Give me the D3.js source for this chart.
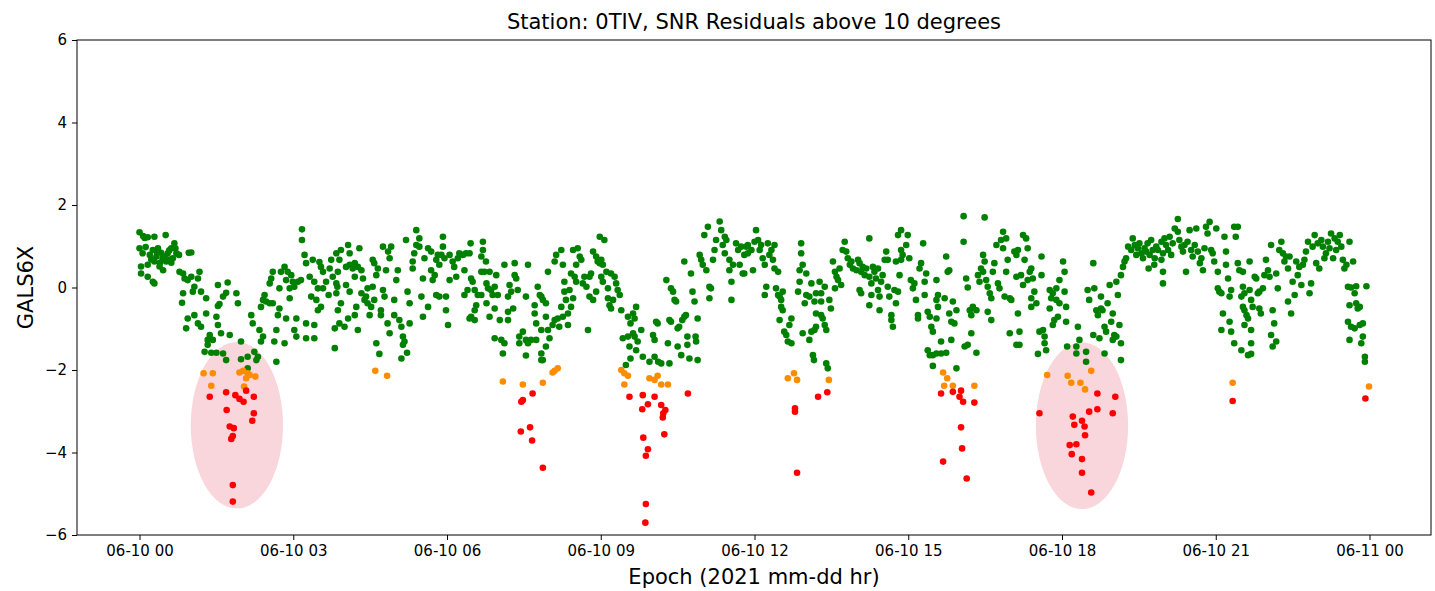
<!DOCTYPE html>
<html>
<head>
<meta charset="utf-8">
<script src="https://cdn.jsdelivr.net/npm/d3@7"></script>
<style>
  html, body { margin: 0; padding: 0; background: #fff; }
  svg { display: block; font-family: "DejaVu Sans", sans-serif; }
</style>
</head>
<body>
<svg id="chart" width="1435" height="591"></svg>
<script>
// SNR residuals for GALS6X at station 0TIV, 2021-06-10 (hours since 00:00, residual)
const goodPoints = [
[0.0,1.34],[0.07,1.25],[0.16,1.22],[0.29,1.23],[0.51,1.27],[0.0,0.95],[0.06,0.83],[0.2,0.79],[0.26,0.91],[0.36,0.95],[0.42,0.84],[0.49,0.75],[0.55,0.83],[0.62,0.95],[0.68,1.07],[0.72,0.83],[0.65,0.71],[0.52,0.63],[0.39,0.51],[0.46,0.42],[0.29,0.63],[0.16,0.55],[0.03,0.51],[0.03,0.34],[0.16,0.26],[0.26,0.14],[0.29,0.1],[0.23,0.68],[0.33,0.75],[0.59,0.68],[0.77,0.79],[0.96,0.84],[1.01,0.85],
[0.1,1.2],[0.12,0.98],[0.33,0.88],[0.45,0.7],[0.58,0.9],[0.7,0.95],[0.4,0.6],[0.62,0.6],
[0.78,0.38],[0.85,0.34],[0.88,0.22],[0.94,0.18],[1.01,0.26],[1.17,0.38],[1.14,0.22],[1.07,0.02],[1.04,-0.1],[0.85,-0.14],[0.83,-0.37],[1.2,-0.1],[1.3,-0.26],[1.53,0.06],[1.72,0.12],[1.69,-0.13],[1.63,-0.22],[1.56,-0.4],[1.53,-0.45],[1.89,-0.14],[1.92,-0.38],[0.94,-0.75],[0.91,-0.99],[1.07,-0.67],[1.14,-0.87],[1.2,-0.95],[1.3,-0.63],[1.5,-0.71],[1.53,-0.91],[1.37,-1.15],[1.33,-1.27],[1.43,-1.27],[1.59,-1.11],[1.76,-1.15],[1.33,-1.39],[1.27,-1.56],[1.4,-1.58],[1.5,-1.58],[1.63,-1.6],[1.69,-1.76],[1.98,-1.31],[1.98,-1.74],[2.11,-1.68],[2.24,-1.56],[2.31,-1.68],[2.28,-1.76],[2.11,-1.96],[2.18,-0.67],[2.21,-0.87],[2.34,-1.03],[2.41,-1.19],[2.37,-1.31],[2.67,-1.03],[2.63,-1.31],[2.83,-1.35],[2.67,-1.8],
[3.17,1.41],[3.17,1.15],[3.22,0.79],[3.25,0.59],[3.38,0.67],[3.51,0.62],[3.54,0.5],[3.58,0.38],[3.71,0.46],[3.74,0.67],[3.84,0.83],[3.77,0.26],[3.84,0.1],[3.84,-0.14],[3.87,-0.55],[3.81,-0.99],[3.81,-1.47],[2.6,0.38],[2.57,0.22],[2.54,0.1],[2.76,0.38],[2.83,0.5],[2.89,0.38],[2.96,0.3],[2.86,0.18],[2.99,0.14],[3.09,0.14],[3.15,0.18],[3.32,0.26],[3.41,0.14],[3.48,-0.02],[3.58,-0.02],[3.64,0.14],[3.69,-0.18],[2.93,-0.02],[3.02,0.02],[2.73,-0.02],[2.93,-0.26],[3.35,-0.22],[3.45,-0.3],[3.54,-0.47],[3.48,-0.55],[2.44,-0.18],[2.41,-0.3],[2.47,-0.34],[2.54,-0.38],[2.37,-0.47],[2.6,-0.38],[2.73,-0.51],[2.7,-0.67],[2.86,-0.75],[3.06,-0.75],[3.02,-1.03],[3.06,-1.19],[3.25,-0.87],[3.41,-0.91],[3.25,-1.23],[3.41,-1.23],
[3.9,0.67],[3.93,0.91],[4.07,1.03],[4.1,0.83],[3.87,0.38],[3.86,0.02],[4.03,0.5],[4.1,0.55],[4.16,0.46],[4.2,0.26],[4.26,0.5],[4.33,0.42],[4.29,0.95],[4.2,0.59],[4.03,0.06],[4.1,-0.1],[3.93,-0.38],[3.9,-0.87],[4.0,-0.95],[4.07,-0.75],[4.2,-0.67],[4.23,-0.47],[4.26,-1.03],[4.33,-0.14],[4.39,-0.3],[4.42,-0.22],[4.45,-0.38],[4.49,-0.67],[4.52,-0.47],[4.55,0.02],[4.58,-0.3],[4.45,-0.02],[4.36,0.22],[4.55,0.67],[4.58,0.59],[4.65,0.46],[4.62,0.3],[4.75,0.99],[4.85,0.87],[4.88,0.71],[4.91,0.99],[4.81,0.42],[4.75,-0.06],[4.78,-0.22],[4.71,-0.55],[4.71,-0.67],[4.84,-0.87],[4.88,-1.11],[4.97,-0.3],[5.01,0.18],[5.04,0.42],[4.97,-0.67],[5.07,-0.79],[5.11,-0.95],[5.14,-1.19],[5.17,-1.31],[5.14,-1.39],[5.11,-1.72],[5.22,-1.58],[4.62,-1.35],[4.68,-1.61],[5.27,-0.87],[5.27,-0.38],[5.23,-0.1],[5.33,0.46],[5.36,0.83],[5.4,1.03],[5.4,1.39],[5.46,1.19],[5.46,0.99],[5.2,1.15],[5.33,0.63],[5.53,0.22],[5.5,-0.22],[5.53,-0.71],[5.63,-0.47],[5.56,0.71],[5.63,0.95],[5.69,0.87],[5.69,0.42],[5.72,0.18],[5.76,0.3],[5.79,0.67],[5.82,0.79],[5.89,0.79],[5.92,1.23],[5.92,0.99],[5.95,0.71],[5.85,0.55],[5.79,-0.18],[5.85,-0.22],[5.98,-0.22],[5.98,-0.55],[6.02,-0.91],[6.05,0.18],[6.05,0.79],[6.11,0.63],[6.14,0.5],[6.21,0.71],[6.24,0.83],[6.31,0.79],[6.34,0.42],[6.37,0.83],[6.44,0.83],[6.46,1.07],[6.18,0.26],[6.34,-0.18],[6.4,-0.06],[6.47,0.22],[6.5,0.14],[6.54,-0.06],[6.6,-0.18],[6.57,-0.43],[6.54,-0.55],[6.47,-0.71],[6.44,-0.75],[6.54,-0.79],[6.7,1.11],[6.7,0.91],[6.67,0.75],[6.76,0.63],[6.67,0.38],[6.73,0.38],[6.83,0.38],[6.67,-0.18],[6.77,0.1],[6.8,-0.02],[6.86,-0.06],[6.89,-0.18],[6.93,0.02],[6.99,-0.18],[6.77,-0.38],[6.83,-0.71],[6.93,-0.51],[7.03,-0.79],[6.96,0.3],[7.12,0.55],[7.19,-0.22],[7.22,0.06],[7.25,-0.1],[7.32,0.59],[7.32,0.3],[7.35,0.22],[7.38,-0.06],[7.19,-0.59],[7.29,-0.51],[7.19,-0.79],[7.58,0.55],[7.54,-0.22],[6.93,-1.23],[7.06,-1.27],[7.12,-1.35],[7.09,-1.6],[7.41,-1.19],[7.41,-1.35],[7.48,-1.07],[7.54,-1.27],[7.58,-1.35],[7.64,-1.27],[7.74,-1.27],[7.54,-1.65],[7.71,-0.43],[7.71,-0.63],[7.74,-0.87],[7.77,0.02],[7.81,-0.18],[7.84,-1.03],[7.84,-1.6],[7.84,-1.76],
[7.84,-0.22],[7.87,-0.3],[7.93,-0.38],[7.97,0.38],[8.1,0.63],[8.13,0.79],[8.23,0.91],[8.26,0.55],[7.93,-0.71],[7.97,-1.03],[8.0,-1.23],[7.93,-1.43],[7.87,-1.76],[8.06,-0.91],[8.1,-0.79],[8.16,-0.75],[8.19,-0.95],[8.23,-0.47],[8.26,-0.71],[8.29,0.14],[8.29,-0.1],[8.32,-0.3],[8.36,-0.63],[8.36,-0.91],[8.39,-0.06],[8.42,-0.47],[8.46,-0.26],[8.42,0.34],[8.46,0.91],[8.49,0.26],[8.52,0.14],[8.52,0.55],[8.55,0.95],[8.59,0.75],[8.62,0.67],[8.65,0.1],[8.68,0.26],[8.72,0.02],[8.75,-1.03],[8.78,0.26],[8.81,0.34],[8.78,-0.22],[8.85,-0.3],[8.85,0.87],[8.91,0.75],[8.94,0.63],[8.98,1.23],[9.07,1.15],[8.98,0.59],[9.01,0.67],[9.04,0.55],[8.91,-0.1],[9.01,0.26],[9.04,0.14],[9.11,0.38],[9.14,-0.02],[9.14,-0.26],[9.17,-0.43],[9.2,-0.51],[9.2,0.34],[9.27,0.26],[9.3,0.1],[9.33,-0.06],[9.37,-0.18],[9.24,-0.3],[9.4,-0.55],[9.53,-0.71],[9.58,-0.87],[9.63,-0.63],[9.69,-0.47],[9.66,-0.75],[9.79,-1.03],[9.66,-1.19],[9.63,-1.11],[9.53,-1.19],[9.43,-1.23],[9.56,-1.43],[9.69,-1.52],[9.72,-1.31],[9.58,-1.72],[9.49,-1.88],[9.82,-1.68],[9.95,-1.8],[10.05,-1.68],[10.12,-1.8],[10.18,-1.84],[10.34,-1.84],[10.02,-1.15],[10.05,-1.27],[10.08,-0.83],[10.11,-0.87],[10.31,-1.35],[10.34,-0.79],[10.37,-0.83],[10.28,0.18],[10.37,-0.02],[10.41,-0.1],[10.44,-0.3],[10.47,-0.34],[10.5,-0.99],[10.5,-1.43],[10.53,-0.95],[10.59,-0.79],[10.63,-0.71],[10.66,-0.67],[10.57,-1.64],[10.69,-1.19],[10.69,-1.39],[10.73,-1.72],[10.76,0.34],[10.79,-0.1],[10.83,-0.34],[10.85,-1.19],[10.86,-1.31],[10.89,-1.76],[10.89,-0.75],[10.63,0.63],[10.93,0.79],[10.96,0.67],[10.99,0.55],[11.02,1.27],[11.06,0.42],[11.09,1.47],[11.12,0.02],[11.12,-0.26],[11.15,-0.02],[11.19,0.67],[11.22,0.91],[11.25,1.15],[11.32,1.6],[11.35,1.39],[11.38,1.03],[11.42,0.83],[11.42,1.23],[11.45,1.15],[11.51,0.67],[11.51,0.42],[11.55,0.14],[11.55,-0.3],[11.58,0.55],[11.64,1.07],[11.68,0.91],[11.71,0.55],[11.74,0.99],[11.77,0.34],[11.8,0.79],[11.84,0.99],[11.87,0.83],
[11.87,1.03],[11.94,0.91],[12.0,1.11],[12.03,1.39],[12.07,1.15],[12.1,0.91],[12.13,1.03],[12.16,0.71],[12.2,0.55],[12.26,1.07],[12.29,0.79],[12.33,0.91],[12.36,0.67],[12.39,1.03],[12.39,0.46],[12.46,0.38],[11.97,0.42],[11.8,0.34],[12.23,0.02],[12.2,-0.18],[12.42,-0.02],[12.46,-0.18],[12.49,-0.22],[12.52,-0.3],[12.55,-0.1],[12.52,-0.47],[12.55,-0.55],[12.49,-0.79],[12.72,-0.75],[12.68,-0.91],[12.58,-1.07],[12.62,-1.15],[12.65,-1.31],[12.72,-1.35],[12.91,1.07],[12.91,0.83],[12.94,0.55],[12.88,0.42],[13.01,0.34],[12.88,0.14],[12.85,-0.1],[13.01,-0.18],[12.98,-0.38],[13.07,-0.22],[13.11,0.1],[13.2,-0.14],[13.27,0.14],[13.3,-0.14],[13.37,0.02],[13.17,-0.34],[13.3,-0.34],[13.2,-0.63],[13.3,-0.67],[13.33,-0.75],[13.46,-0.3],[13.49,-0.51],[12.94,-1.11],[13.07,-1.27],[13.11,-1.07],[13.17,-1.03],[13.2,-0.95],[13.37,-0.91],[13.4,-1.03],[13.14,-1.64],[13.16,-1.76],[13.4,-1.84],[13.43,-1.96],[13.53,0.63],[13.57,0.38],[13.6,0.26],[13.63,0.18],[13.66,0.46],[13.57,-0.02],[13.69,0.06],[13.76,1.11],[13.79,0.87],[13.72,0.91],[13.82,0.71],[13.86,0.55],[13.89,0.63],[13.92,0.46],[13.99,0.42],[14.02,0.67],[14.05,0.59],[14.08,0.38],[14.11,0.5],[14.15,0.3],[14.05,-0.06],[14.08,-0.14],[14.18,0.46],[14.24,1.19],[14.24,0.26],[14.28,0.1],[14.28,-0.18],[14.31,0.5],[14.34,0.38],[14.37,0.22],[14.41,0.46],[14.41,-0.06],[14.44,-0.22],[14.47,0.14],[14.5,0.3],[14.24,-0.43],[14.44,-0.55],[14.54,0.67],[14.57,0.87],[14.6,0.02],[14.6,0.67],[14.63,-0.22],[14.67,-0.67],[14.67,-0.79],[14.7,-0.95],[14.73,-0.06],[14.76,0.63],[14.76,-0.38],[14.8,1.27],[14.8,-0.1],[14.83,0.3],[14.86,1.39],[14.86,0.91],[14.86,0.67],[14.89,0.79],[14.96,1.03],[14.99,1.27],[15.02,0.71],[15.05,0.18],[15.09,-0.02],[15.12,0.1],[15.15,-0.3],[15.19,-0.67],[15.19,-0.75],[15.22,0.46],[15.25,0.59],[15.29,1.07],[15.32,0.14],[15.32,-0.18],[15.35,0.34],[15.38,-0.59],[15.42,-0.71],[15.45,-0.95],[15.48,-1.07],[15.55,0.18],[15.55,-0.3],[15.58,-0.18],[15.58,-0.47],[15.55,-0.75],[15.71,-0.26],[15.74,0.75],[15.77,0.38],[15.8,-0.63],[15.84,-1.27],[15.64,-1.31],[15.38,-1.52],[15.42,-1.64],[15.48,-1.64],[15.55,-1.6],[15.64,-1.6],[15.74,-1.58],[15.48,-1.9],[15.87,-0.34],[15.84,-0.83],
[16.08,1.73],[16.08,1.11],[16.49,1.7],[15.8,0.42],[15.94,-0.55],[15.9,-0.87],[15.94,-1.96],[16.13,0.22],[16.16,0.0],[16.2,-0.55],[16.23,-0.67],[16.26,-0.47],[16.23,-1.11],[16.16,-1.39],[16.1,-1.43],[16.33,-0.55],[16.33,-1.58],[16.36,0.3],[16.39,0.14],[16.42,0.46],[16.46,0.38],[16.49,0.63],[16.46,0.79],[16.52,0.18],[16.55,0.02],[16.59,-0.14],[16.62,-0.26],[16.55,-0.59],[16.62,-0.79],[16.65,0.38],[16.68,0.59],[16.72,1.03],[16.75,0.1],[16.78,-0.02],[16.81,1.15],[16.85,1.35],[16.85,0.95],[16.91,1.19],[16.91,0.38],[16.88,-0.22],[16.94,0.67],[16.98,-0.26],[17.01,-0.3],[16.98,-1.11],[17.07,0.87],[17.11,0.79],[17.14,0.91],[17.11,0.26],[17.14,-0.63],[17.17,-1.07],[17.11,-1.39],[17.17,-1.39],[17.2,0.3],[17.24,1.27],[17.24,0.06],[17.27,0.67],[17.3,1.19],[17.33,0.95],[17.33,0.18],[17.37,0.38],[17.4,0.46],[17.43,0.22],[17.4,-0.26],[17.4,-0.47],[17.46,-0.1],[17.5,-0.38],[17.56,-1.07],[17.6,0.75],[17.6,0.3],[17.63,-1.03],[17.66,-1.19],[17.66,-1.35],[17.69,-1.52],[17.53,-1.61],[17.76,-0.06],[17.76,-0.51],[17.79,-0.26],[17.82,-0.14],[17.82,-0.91],[17.85,-0.79],[17.89,-0.02],[17.89,-0.3],[17.92,-0.71],[17.95,0.18],[17.95,-0.38],[18.02,0.63],[18.05,0.38],[18.05,-0.1],[18.08,-0.47],[18.08,-0.83],[18.1,-1.43],[18.28,-1.43],[18.31,-0.95],[18.34,-1.27],[18.28,-1.6],[18.47,-1.56],[18.47,-1.8],[18.5,-0.06],[18.53,-0.3],[18.61,0.59],[18.61,-1.15],[18.63,-0.02],[18.67,-0.55],[18.7,-0.67],[18.73,-1.23],[18.76,-0.22],[18.76,-0.51],[18.79,-0.55],[18.83,-0.95],[18.83,-1.6],[18.86,-1.07],[18.89,-0.38],[18.93,0.06],[18.96,-0.83],[18.99,-0.63],[18.99,-1.27],[19.02,-1.15],[19.06,0.14],[19.09,-0.18],[19.12,-0.91],[19.15,-1.35],[19.15,-1.76],[19.06,-1.19],[19.15,0.3],[19.19,0.5],[19.22,0.63],[19.25,0.71],[19.29,0.99],[19.35,0.91],[19.38,1.19],[19.42,1.03],[19.45,0.79],[19.48,0.95],[19.51,1.07],[19.55,0.83],[19.58,0.71],[19.61,0.95],[19.64,0.87],[19.67,1.07],[19.71,0.79],[19.74,1.15],[19.77,0.91],[19.81,0.71],[19.69,0.46],[19.84,0.99],
[19.87,0.91],[19.94,1.11],[19.97,0.83],[20.0,1.19],[20.03,1.03],[20.07,0.91],[20.1,1.23],[20.13,0.79],[20.16,1.07],[20.2,1.43],[20.26,1.66],[20.26,1.35],[20.29,1.15],[20.33,0.99],[20.36,0.87],[20.39,1.03],[20.42,0.38],[20.45,1.11],[20.49,1.39],[20.52,0.91],[20.55,0.75],[20.59,1.03],[20.62,1.43],[20.65,0.87],[20.69,0.59],[20.72,0.71],[20.75,0.42],[20.78,0.95],[20.81,1.47],[20.84,1.31],[20.88,1.59],[20.91,0.91],[20.94,0.83],[20.97,0.63],[21.01,1.43],[21.04,0.38],[19.8,0.55],[19.97,0.1],[19.97,0.38],[19.94,0.67],[21.17,1.23],[21.2,0.87],[21.2,0.55],[21.24,0.22],[21.36,1.47],[21.43,1.47],[21.39,1.23],[21.04,-0.02],[21.07,-0.1],[21.11,-0.14],[21.27,-0.22],[21.3,-0.06],[21.14,-0.63],[21.11,-1.03],[21.27,-0.83],[21.3,-1.07],[21.36,-1.35],[21.5,-1.52],[21.69,-1.61],[21.43,0.59],[21.46,0.42],[21.53,0.38],[21.53,0.02],[21.56,-0.14],[21.5,-0.22],[21.53,-0.47],[21.56,-0.55],[21.6,-0.67],[21.56,-0.91],[21.63,-0.75],[21.66,0.63],[21.66,-0.06],[21.69,-0.3],[21.69,-1.03],[21.69,-1.35],[21.63,-1.64],[21.72,-0.47],[21.76,0.26],[21.79,0.22],[21.82,-0.14],[21.85,-0.1],[21.85,-0.51],[21.88,-0.63],[21.92,-0.02],[21.95,0.3],[21.98,0.67],[22.02,0.42],[22.05,0.26],[22.08,1.03],[22.11,-0.55],[22.14,-0.87],[22.08,-1.15],[22.11,-1.43],[22.18,-1.31],[22.18,0.34],[22.21,-0.02],[22.24,0.91],[22.28,1.11],[22.31,0.83],[22.34,0.63],[22.37,0.75],[22.41,0.46],[22.41,-0.34],[22.44,0.75],[22.47,-0.63],[22.5,0.14],[22.54,-0.18],[22.57,0.63],[22.6,0.3],[22.63,0.5],[22.67,0.06],[22.7,0.55],[22.73,0.67],[22.76,0.87],[22.8,1.11],[22.83,-0.14],[22.86,0.1],[22.89,0.99],[22.93,1.27],[22.96,0.59],[22.99,1.07],[23.02,0.46],[23.06,1.15],[23.09,0.99],[23.12,0.71],[23.15,0.83],[23.19,1.11],[23.22,0.95],[23.25,1.31],[23.29,0.71],[23.32,1.19],[23.35,0.91],[23.38,1.11],[23.42,1.27],[23.45,0.99],[23.48,0.67],[23.51,0.46],[23.55,0.55],[23.61,1.11],[23.68,0.63],[23.58,0.02],[23.64,0.0],[23.74,0.03],[23.71,-0.14],[23.61,-0.43],[23.74,-0.38],[23.77,-0.51],[23.81,-0.47],[23.94,0.03],[23.58,-0.83],[23.64,-0.95],[23.71,-0.99],[23.81,-0.91],[23.87,-0.87],[23.61,-1.27],[23.87,-1.19],[23.84,-1.35],[23.91,-1.68],[23.91,-1.8]
];

const warnPoints = [
[1.25,-2.08],[1.43,-2.08],[1.4,-2.38],[1.95,-2.06],[2.02,-2.02],[2.11,-2.08],[2.08,-2.2],[2.15,-2.12],[2.26,-2.16],[2.04,-2.4],
[4.6,-2.02],[4.83,-2.14],[7.09,-2.28],[7.48,-2.35],[7.87,-2.31],
[8.06,-2.06],[8.1,-2.02],[8.16,-1.96],[9.4,-2.0],[9.46,-2.08],[9.53,-2.14],[9.46,-2.35],[9.95,-2.2],[10.05,-2.24],[10.11,-2.14],[10.18,-2.35],[10.31,-2.35],
[12.65,-2.2],[12.77,-2.08],[12.83,-2.24],[13.45,-2.24],[15.68,-2.06],[15.76,-2.2],[15.7,-2.38],[15.87,-2.38],
[16.29,-2.38],[17.71,-2.12],[18.11,-2.14],[18.18,-2.31],[18.36,-2.31],[18.45,-2.47],[18.57,-2.02],
[21.33,-2.31],[23.99,-2.4]
];

const badPoints = [
[1.37,-2.65],[1.69,-2.54],[1.87,-2.61],[1.95,-2.7],[2.03,-2.77],[2.08,-2.5],[2.23,-2.65],[1.7,-2.97],[2.23,-3.05],[2.2,-3.23],[1.76,-3.37],[1.84,-3.41],[1.82,-3.6],[1.79,-3.67],[1.82,-4.79],[1.82,-5.19],
[7.67,-2.57],[7.48,-2.73],[7.45,-2.77],[7.44,-3.49],[7.62,-3.39],[7.66,-3.71],[7.87,-4.37],
[9.56,-2.65],[9.82,-2.61],[10.05,-2.65],[9.92,-2.83],[9.81,-2.95],[10.18,-2.85],[10.26,-2.97],[10.22,-3.05],[10.21,-3.15],[10.7,-2.57],[10.24,-3.56],[9.83,-3.64],[9.92,-3.92],[9.88,-4.08],[9.88,-5.25],[9.87,-5.7],
[12.79,-2.93],[12.79,-3.01],[13.24,-2.65],[13.42,-2.54],[12.83,-4.49],[15.64,-2.57],[15.87,-2.53],[15.68,-4.22],
[16.03,-2.5],[16.0,-2.65],[16.07,-2.77],[16.29,-2.79],[16.03,-3.39],[16.05,-3.9],[16.14,-4.63],
[17.56,-3.05],[18.21,-3.13],[18.24,-3.33],[18.39,-3.23],[18.44,-3.37],[18.45,-3.58],[18.53,-3.01],[18.69,-2.57],[18.69,-2.95],[18.99,-3.05],[19.04,-2.65],[18.15,-3.82],[18.28,-3.8],[18.19,-4.04],[18.39,-4.16],[18.39,-4.49],[18.57,-4.97],
[21.33,-2.75],[23.92,-2.69]
];

// Highlighted regions: [centre hour, centre residual, half-width hours, half-height residual]
const highlightRegions = [
  [1.9, -3.34, 0.9, 2.02],
  [18.39, -3.35, 0.9, 2.02]
];

const hourTicks = [0, 3, 6, 9, 12, 15, 18, 21, 24];
const hourTickLabels = ["06-10 00", "06-10 03", "06-10 06", "06-10 09", "06-10 12", "06-10 15", "06-10 18", "06-10 21", "06-11 00"];
const residualTicks = [-6, -4, -2, 0, 2, 4, 6];

const titleText = "Station: 0TIV, SNR Residuals above 10 degrees";
const xLabelText = "Epoch (2021 mm-dd hr)";
const yLabelText = "GALS6X";

const svg = d3.select("#chart");
const plotLeft = 77, plotRight = 1431, plotTop = 40, plotBottom = 535;

const x = d3.scaleLinear().domain([-1.22, 25.2]).range([plotLeft, plotRight]);
const y = d3.scaleLinear().domain([-6, 6]).range([plotBottom, plotTop]);

const plot = svg.append("g");

// shaded regions sit beneath the markers
plot.selectAll("ellipse.region")
  .data(highlightRegions)
  .join("ellipse")
  .attr("class", "region")
  .attr("cx", d => x(d[0]))
  .attr("cy", d => y(d[1]))
  .attr("rx", d => x(d[0] + d[2]) - x(d[0]))
  .attr("ry", d => y(d[1] - d[3]) - y(d[1]))
  .attr("fill", "#f8d6dc");

function drawSeries(data, color) {
  plot.append("g")
    .selectAll("circle")
    .data(data)
    .join("circle")
    .attr("cx", d => x(d[0]))
    .attr("cy", d => y(d[1]))
    .attr("r", 3.3)
    .attr("fill", color);
}
drawSeries(goodPoints, "#008000");
drawSeries(warnPoints, "#ff8c00");
drawSeries(badPoints, "#ff0000");

// axes
const xAxis = d3.axisBottom(x)
  .tickValues(hourTicks)
  .tickFormat((d, i) => hourTickLabels[i])
  .tickSize(5).tickPadding(5).tickSizeOuter(0);
const yAxis = d3.axisLeft(y)
  .tickValues(residualTicks)
  .tickFormat(d => d < 0 ? "\u2212" + Math.abs(d) : String(d))
  .tickSize(5).tickPadding(5).tickSizeOuter(0);

const gx = svg.append("g").attr("transform", `translate(0,${plotBottom})`).call(xAxis);
const gy = svg.append("g").attr("transform", `translate(${plotLeft},0)`).call(yAxis);
[gx, gy].forEach(g => {
  g.select(".domain").remove();
  g.selectAll("text").attr("font-family", "DejaVu Sans").attr("font-size", 15).attr("fill", "#000");
  g.selectAll("line").attr("stroke", "#000").attr("stroke-width", 1);
});

// frame
svg.append("rect")
  .attr("x", plotLeft).attr("y", plotTop)
  .attr("width", plotRight - plotLeft).attr("height", plotBottom - plotTop)
  .attr("fill", "none").attr("stroke", "#000").attr("stroke-width", 1);

svg.append("text")
  .attr("x", (plotLeft + plotRight) / 2).attr("y", 29)
  .attr("text-anchor", "middle")
  .attr("font-size", 21).attr("fill", "#000")
  .text(titleText);

svg.append("text")
  .attr("x", (plotLeft + plotRight) / 2).attr("y", 584)
  .attr("text-anchor", "middle")
  .attr("font-size", 21).attr("fill", "#000")
  .text(xLabelText);

svg.append("text")
  .attr("transform", `translate(33,${(plotTop + plotBottom) / 2}) rotate(-90)`)
  .attr("text-anchor", "middle")
  .attr("font-size", 21).attr("fill", "#000")
  .text(yLabelText);
</script>
</body>
</html>
